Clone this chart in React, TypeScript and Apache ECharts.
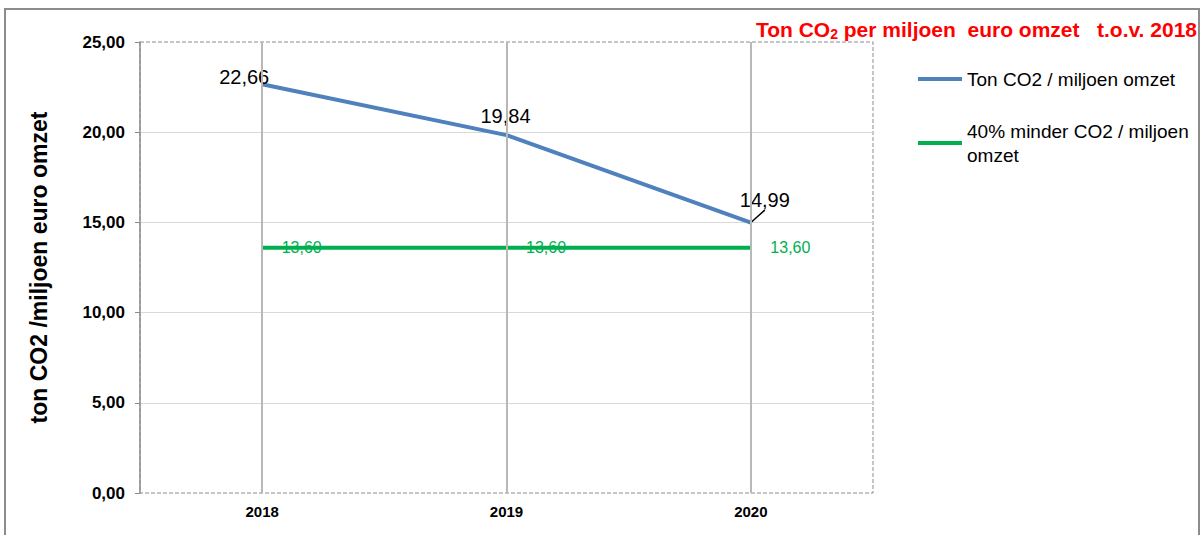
import React, { useEffect, useRef } from "react";
import * as echarts from "echarts";

const categories = ["2018", "2019", "2020"];
const co2Values = [22.66, 19.84, 14.99];
const targetValues = [13.6, 13.6, 13.6];
const yMin = 0;
const yMax = 25;
const yInterval = 5;
const co2Name = "Ton CO2 / miljoen omzet";
const targetName = "40% minder CO2 / miljoen omzet";
const yAxisName = "ton CO2 /miljoen euro omzet";

const FONT = '"Liberation Sans", Arial, sans-serif';
const fmt = (v: number) => v.toFixed(2).replace(".", ",");

const co2LabelShift = [
  { dx: -18, dy: 8 },
  { dx: -1, dy: -4 },
  { dx: 14, dy: -7 },
];
const co2LeaderShown = [false, false, true];

export default function App() {
  const ref = useRef<HTMLDivElement>(null);
  useEffect(() => {
    document.body.style.margin = "0";
    const chart = echarts.init(ref.current!, null, { renderer: "svg" });
    chart.setOption({
      animation: false,
      backgroundColor: "#fff",
      textStyle: { fontFamily: FONT },
      title: {
        text: "{a|Ton CO}{s|2}{a| per miljoen  euro omzet   t.o.v. 2018}",
        right: 6,
        top: 18,
        padding: 0,
        textStyle: {
          rich: {
            a: { color: "#ff0000", fontSize: 21, fontWeight: "bold", fontFamily: FONT },
            s: { color: "#ff0000", fontSize: 14, fontWeight: "bold", fontFamily: FONT, padding: [9, 0, 0, 0] },
          },
        },
      },
      legend: [
        {
          data: [co2Name],
          left: 918,
          top: 67,
          padding: 0,
          itemWidth: 44,
          itemHeight: 4,
          icon: "rect",
          textStyle: { fontSize: 19, color: "#000", fontFamily: FONT, lineHeight: 24 },
        },
        {
          data: [targetName],
          left: 918,
          top: 107,
          padding: 0,
          itemWidth: 44,
          itemHeight: 4,
          icon: "rect",
          formatter: () => "40% minder CO2 / miljoen\nomzet",
          textStyle: { fontSize: 19, color: "#000", fontFamily: FONT, lineHeight: 24, padding: [24, 0, 0, 0] },
        },
      ],
      graphic: [
        {
          type: "rect",
          shape: { x: 5, y: 9, width: 1194, height: 560 },
          style: { fill: "none", stroke: "#8c8c8c", lineWidth: 2 },
          silent: true,
        },
      ],
      grid: {
        left: 140,
        right: 330,
        top: 42,
        bottom: 42,
        show: true,
        borderColor: "#8c8c8c",
        borderWidth: 1,
        borderType: "dashed",
      },
      xAxis: {
        type: "category",
        data: categories,
        boundaryGap: true,
        axisLine: { show: false },
        axisTick: { show: false },
        splitLine: { show: false },
        axisLabel: { fontSize: 15, fontWeight: "bold", color: "#000", margin: 11, fontFamily: FONT },
      },
      yAxis: {
        type: "value",
        min: yMin,
        max: yMax,
        interval: yInterval,
        name: yAxisName,
        nameLocation: "middle",
        nameGap: 90,
        nameTextStyle: { fontSize: 23, fontWeight: "bold", color: "#000", fontFamily: FONT },
        axisLine: { show: true, lineStyle: { color: "#8c8c8c", width: 1.5 } },
        axisTick: { show: true, length: 5, lineStyle: { color: "#8c8c8c" } },
        axisLabel: {
          fontSize: 17,
          fontWeight: "bold",
          color: "#000",
          margin: 15,
          fontFamily: FONT,
          formatter: (v: number) => fmt(v),
        },
        splitLine: {
          show: true,
          showMinLine: false,
          showMaxLine: false,
          lineStyle: { color: "#d9d9d9", width: 1 },
        },
      },
      series: [
        {
          type: "line",
          name: "grid",
          data: [],
          z: 1,
          silent: true,
          markLine: {
            silent: true,
            symbol: "none",
            label: { show: false },
            lineStyle: { color: "#b8b8b8", width: 2, type: "solid" },
            data: categories.map((c) => ({ xAxis: c })),
          },
        },
        {
          type: "line",
          name: targetName,
          data: targetValues,
          z: 3,
          symbol: "circle",
          symbolSize: 1,
          itemStyle: { color: "#00b050" },
          lineStyle: { color: "#00b050", width: 4 },
          label: {
            show: true,
            position: "right",
            distance: 19,
            color: "#00b050",
            fontSize: 16,
            fontFamily: FONT,
            formatter: (p: any) => fmt(p.value),
          },
        },
        {
          type: "line",
          name: co2Name,
          data: co2Values.map((v, i) => ({ value: v, labelLine: { show: co2LeaderShown[i] } })),
          z: 4,
          symbol: "circle",
          symbolSize: 1,
          itemStyle: { color: "#4f81bd" },
          lineStyle: { color: "#4f81bd", width: 4 },
          label: {
            show: true,
            position: "top",
            color: "#000",
            fontSize: 20,
            fontFamily: FONT,
            formatter: (p: any) => fmt(p.value),
          },
          labelLine: { show: true, lineStyle: { color: "#000", width: 1.5 } },
          labelLayout: (p: any) => co2LabelShift[p.dataIndex] || {},
        },
      ],
    });
    return () => chart.dispose();
  }, []);
  return <div ref={ref} style={{ width: 1203, height: 535 }} />;
}
